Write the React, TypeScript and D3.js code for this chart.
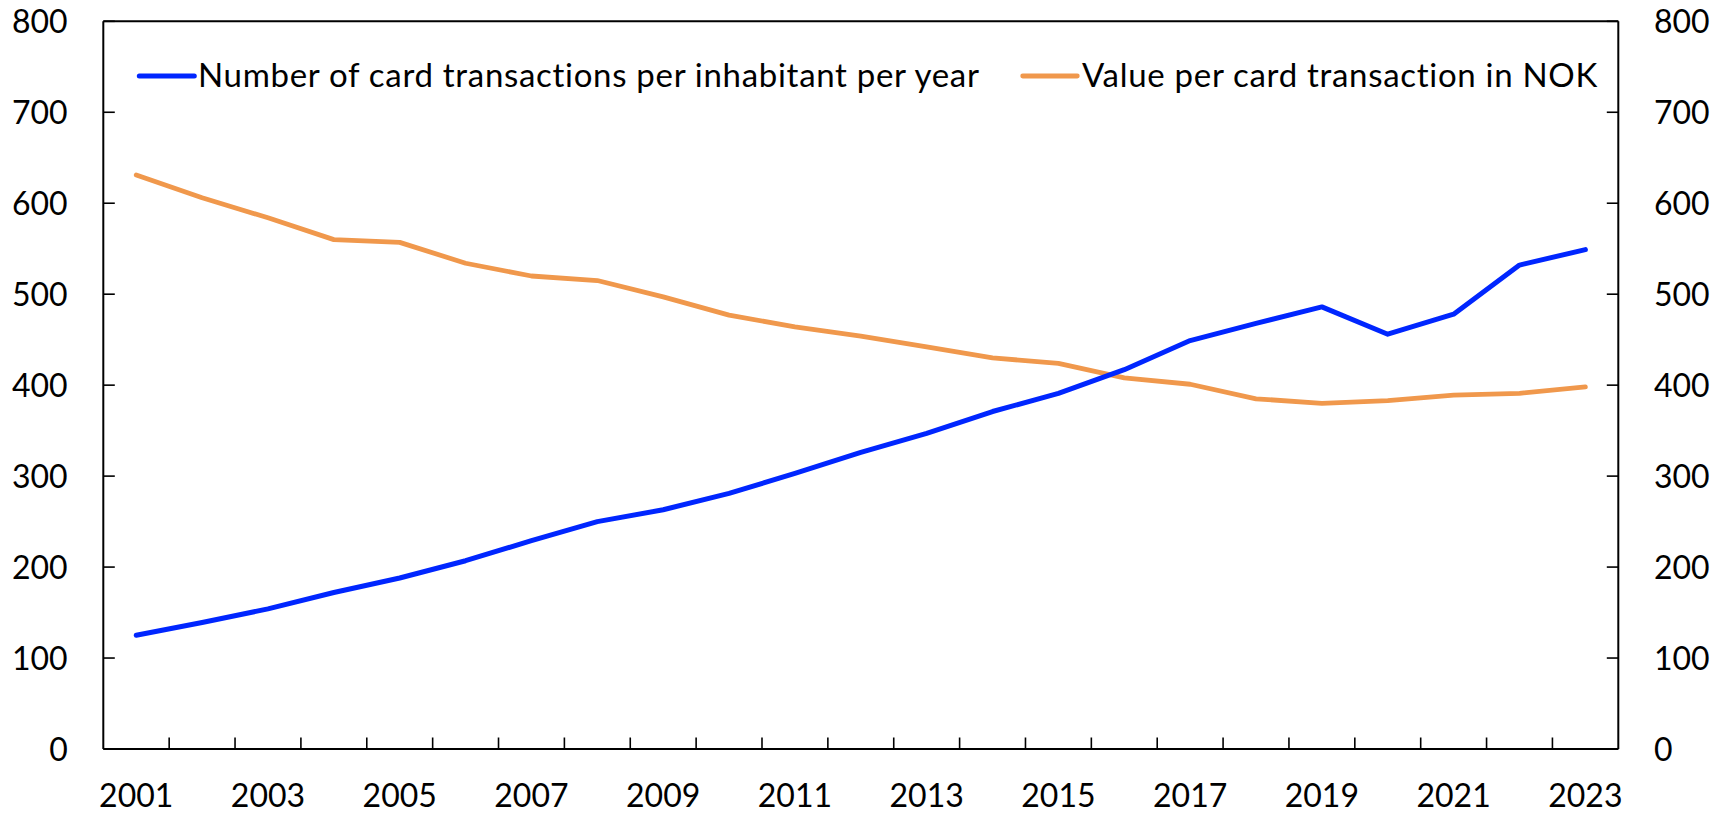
import React from "react";
import * as d3 from "d3";

const years: string[] = [
  "2001","2002","2003","2004","2005","2006","2007","2008","2009","2010","2011","2012",
  "2013","2014","2015","2016","2017","2018","2019","2020","2021","2022","2023",
];
const cardTransactionsPerInhabitant: number[] = [
  125, 139, 154, 172, 188, 207, 229, 250, 263, 281, 303, 326,
  347, 371, 391, 417, 449, 468, 486, 456, 478, 532, 549,
];
const valuePerTransactionNOK: number[] = [
  631, 606, 584, 560, 557, 534, 520, 515, 497, 477, 464, 454,
  442, 430, 424, 408, 401, 385, 380, 383, 389, 391, 398,
];
const yTicks: number[] = [0, 100, 200, 300, 400, 500, 600, 700, 800];
const xLabelYears: string[] = years.filter((_, i) => i % 2 === 0);
const seriesNames: string[] = [
  "Number of card transactions per inhabitant per year",
  "Value per card transaction in NOK",
];

const W = 1725;
const H = 814;
const M = { left: 103.3, right: 1618.3, top: 21.3, bottom: 749 };
const FONT = "Lato, 'Open Sans', sans-serif";
const FS = 32;
const BLUE = "#0026FF";
const ORANGE = "#F0984C";

export default function App() {
  const x = d3.scaleBand<string>().domain(years).range([M.left, M.right]).padding(0);
  const yL = d3.scaleLinear().domain([0, 800]).range([M.bottom, M.top]);
  const yR = d3.scaleLinear().domain([0, 800]).range([M.bottom, M.top]);
  const cx = (yr: string) => (x(yr) as number) + x.bandwidth() / 2;

  const lineBlue = d3
    .line<number>()
    .x((_, i) => cx(years[i]))
    .y((d) => yL(d));
  const lineOrange = d3
    .line<number>()
    .x((_, i) => cx(years[i]))
    .y((d) => yR(d));

  const tickLen = 11.5;
  const xTickPositions = years.slice(1).map((yr) => x(yr) as number);

  return (
    <svg
      width={W}
      height={H}
      style={{ position: "absolute", left: 0, top: 0, display: "block", background: "#fff" }}
      fontFamily={FONT}
    >
      {/* plot border / axes */}
      <line x1={M.left} x2={M.right} y1={M.top} y2={M.top} stroke="#000" strokeWidth={2} />
      <line x1={M.left} x2={M.left} y1={M.top} y2={M.bottom} stroke="#000" strokeWidth={2} />
      <line x1={M.right} x2={M.right} y1={M.top} y2={M.bottom} stroke="#000" strokeWidth={2} />
      <line x1={M.left} x2={M.right} y1={M.bottom} y2={M.bottom} stroke="#000" strokeWidth={2} />

      {/* left y ticks & labels */}
      {yTicks.map((t) => (
        <g key={"l" + t}>
          <line x1={M.left} x2={M.left + tickLen} y1={yL(t)} y2={yL(t)} stroke="#000" strokeWidth={1.6} />
          <text x={67.7} y={yL(t)} dy="0.36em" textAnchor="end" fontSize={FS} fill="#000">
            {t}
          </text>
        </g>
      ))}
      {/* right y ticks & labels */}
      {yTicks.map((t) => (
        <g key={"r" + t}>
          <line x1={M.right - tickLen} x2={M.right} y1={yR(t)} y2={yR(t)} stroke="#000" strokeWidth={1.6} />
          <text x={1654} y={yR(t)} dy="0.36em" textAnchor="start" fontSize={FS} fill="#000">
            {t}
          </text>
        </g>
      ))}
      {/* x ticks between categories */}
      {xTickPositions.map((px, i) => (
        <line key={"xt" + i} x1={px} x2={px} y1={M.bottom} y2={M.bottom - tickLen} stroke="#000" strokeWidth={1.6} />
      ))}
      {xLabelYears.map((yr) => (
        <text key={"xl" + yr} x={cx(yr)} y={807} textAnchor="middle" fontSize={FS} fill="#000">
          {yr}
        </text>
      ))}

      {/* series */}
      <path
        d={lineOrange(valuePerTransactionNOK) || ""}
        fill="none"
        stroke={ORANGE}
        strokeWidth={4.8}
        strokeLinejoin="round"
        strokeLinecap="round"
      />
      <path
        d={lineBlue(cardTransactionsPerInhabitant) || ""}
        fill="none"
        stroke={BLUE}
        strokeWidth={5}
        strokeLinejoin="round"
        strokeLinecap="round"
      />

      {/* legend */}
      <line x1={139.3} x2={194.3} y1={76} y2={76} stroke={BLUE} strokeWidth={5} strokeLinecap="round" />
      <text x={198} y={87} fontSize={33} letterSpacing={0.7} fill="#000">
        {seriesNames[0]}
      </text>
      <line x1={1022.7} x2={1077.3} y1={76} y2={76} stroke={ORANGE} strokeWidth={4.8} strokeLinecap="round" />
      <text x={1082} y={87} fontSize={33} letterSpacing={0.7} fill="#000">
        {seriesNames[1]}
      </text>
    </svg>
  );
}
